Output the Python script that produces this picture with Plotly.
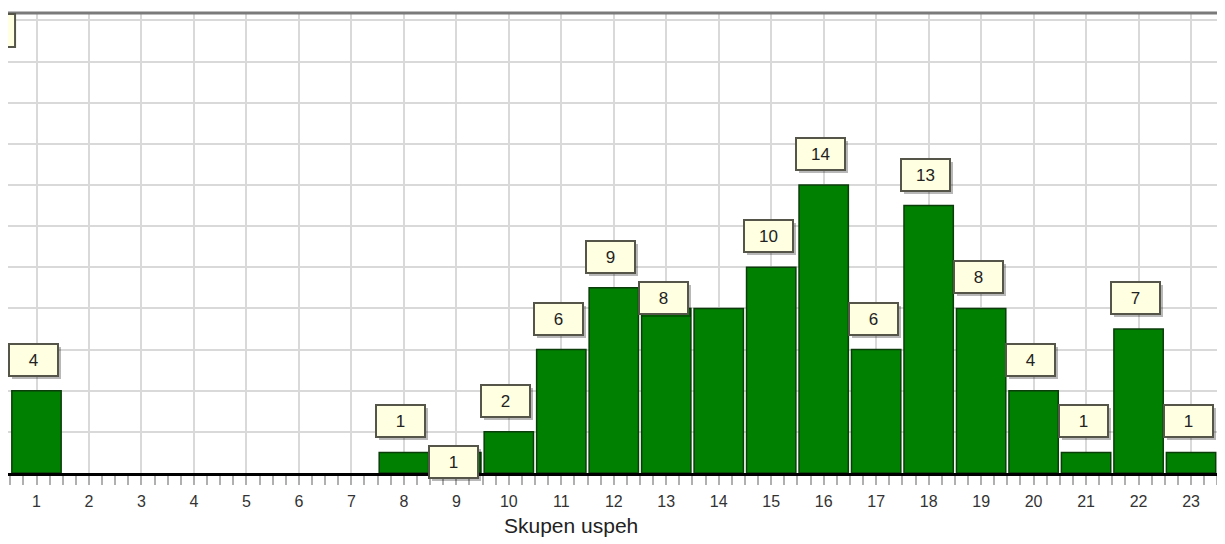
import plotly.graph_objects as go

categories = list(range(1, 24))
values = [4, 0, 0, 0, 0, 0, 0, 1, 1, 2, 6, 9, 8, 8, 10, 14, 6, 13, 8, 4, 1, 7, 1]
tick_labels = [str(c) for c in categories]
axis_title = "Skupen uspeh"

# label placement tweaks (pixels) where the original chart moved labels to avoid overlap
label_yshift_default = 31
label_yshift_override = {9: -10, 13: 10}
hidden_labels = {14}

FONT = "Liberation Sans, Arial, sans-serif"

# the page body has an 8px margin, so the figure is sized to fit the window
W, H = 1217, 536

fig = go.Figure()
fig.add_trace(go.Bar(
    x=categories, y=[v if v else None for v in values],
    marker=dict(color="#008000", line=dict(color="#0b3d0b", width=1.5)),
    width=0.94,
    hoverinfo="x+y",
))

annotations = []
for c, v in zip(categories, values):
    if v == 0 or c in hidden_labels:
        continue
    ys = label_yshift_override.get(c, label_yshift_default)
    # shadow
    annotations.append(dict(
        x=c, y=v, xref="x", yref="y", text="", showarrow=False,
        width=43, height=26, borderpad=2, borderwidth=2,
        bgcolor="rgba(0,0,0,0.28)", bordercolor="rgba(0,0,0,0)",
        xshift=0, yshift=ys - 3,
    ))
    annotations.append(dict(
        x=c, y=v, xref="x", yref="y", text=str(v), showarrow=False,
        width=43, height=26, borderpad=2, borderwidth=2,
        bgcolor="#ffffe1", bordercolor="#55554a",
        font=dict(family=FONT, size=17, color="#222222"),
        xshift=-3, yshift=ys,
    ))

annotations.append(dict(
    x=0.463, y=-0.115, xref="paper", yref="paper", text=axis_title,
    showarrow=False, yanchor="middle", xanchor="center",
    font=dict(family=FONT, size=21, color="#222222"),
))

fig.update_layout(
    width=W, height=H,
    margin=dict(l=0, r=0, t=5, b=71),
    paper_bgcolor="white", plot_bgcolor="white",
    showlegend=False,
    bargap=0.06,
    annotations=annotations,
    shapes=[
        dict(type="line", xref="paper", yref="paper", x0=0, x1=1, y0=1, y1=1,
             line=dict(color="#7a7a7a", width=3)),
        # partially visible label box at the top-left corner
        dict(type="rect", xref="paper", yref="paper", x0=-0.03, x1=0.0058,
             y0=0.926, y1=0.998, fillcolor="#ffffe1",
             line=dict(color="#55554a", width=2)),
    ],
    xaxis=dict(
        range=[0.457, 23.647],
        tickmode="array", tickvals=categories, ticktext=tick_labels,
        showgrid=True, gridcolor="#d9d9d9", gridwidth=2,
        showline=True, linecolor="#000000", linewidth=3,
        ticks="outside", ticklen=9, tickwidth=2, tickcolor="#b0b0b0",
        minor=dict(dtick=0.25, tick0=0, ticks="outside", ticklen=9, tickwidth=2,
                   tickcolor="#b0b0b0", showgrid=False),
        tickfont=dict(family=FONT, size=16, color="#333333"),
        ticklabelstandoff=3,
        zeroline=False, fixedrange=True,
    ),
    yaxis=dict(
        range=[0, 22.36], dtick=2, tick0=0,
        showgrid=True, gridcolor="#d9d9d9", gridwidth=2,
        showticklabels=False, ticks="",
        showline=True, linecolor="#444444", linewidth=2,
        zeroline=False, fixedrange=True,
    ),
)

fig.write_html("out.html")
